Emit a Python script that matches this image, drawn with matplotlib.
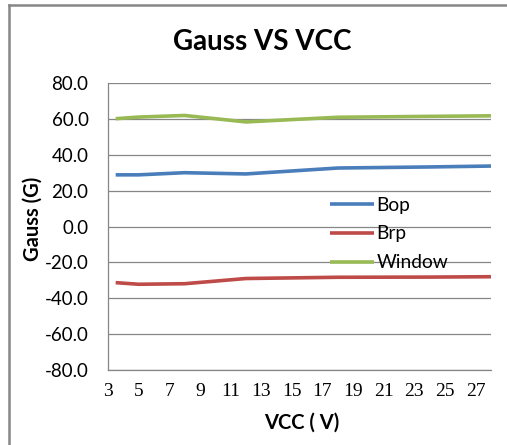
import matplotlib
matplotlib.use("Agg")
import matplotlib.pyplot as plt
from matplotlib.lines import Line2D

# values
vcc = [3.5, 5, 8, 12, 18, 24, 28]
bop = [28.8, 28.8, 30.0, 29.3, 32.6, 33.2, 33.7]
brp = [-31.3, -32.2, -31.9, -29.0, -28.3, -28.2, -28.0]
window = [60.1, 61.0, 61.9, 58.3, 60.9, 61.4, 61.7]

x_ticks = list(range(3, 28, 2))
y_ticks = list(range(-80, 81, 20))

grid_col = "#868686"

fig = plt.figure(figsize=(5.07, 4.45), dpi=100)
ax = fig.add_axes([108 / 507, 1 - 370 / 445, (491 - 108) / 507, (370 - 83) / 445])

ax.plot(vcc, bop, color="#4A7EBB", lw=2.6, label="Bop", solid_capstyle="butt")
ax.plot(vcc, brp, color="#BE4B48", lw=2.6, label="Brp", solid_capstyle="butt")
ax.plot(vcc, window, color="#98B954", lw=2.6, label="Window", solid_capstyle="butt")

ax.set_xlim(3, 28)
ax.set_ylim(-80, 80)
ax.set_xticks(x_ticks)
ax.set_yticks(y_ticks)
ax.set_yticklabels([f"{v:.1f}" for v in y_ticks], fontfamily="Lato", fontsize=13.5)
ax.set_xticklabels([str(v) for v in x_ticks], fontfamily="Liberation Serif", fontsize=14)
ax.tick_params(axis="both", length=0)
ax.tick_params(axis="y", pad=14)
ax.tick_params(axis="x", pad=9)

ax.yaxis.grid(True, color=grid_col, lw=0.9)
ax.set_axisbelow(True)
for side in ["top", "right"]:
    ax.spines[side].set_visible(False)
for side in ["left", "bottom"]:
    ax.spines[side].set_color(grid_col)
    ax.spines[side].set_linewidth(0.9)

fig.text(262 / 507, 1 - 42 / 445, "Gauss VS VCC", ha="center", va="center",
         fontfamily="Lato", fontweight="bold", fontsize=20)
fig.text(33 / 507, 1 - 219 / 445, "Gauss (G)", ha="center", va="center", rotation=90,
         fontfamily="Lato", fontweight="bold", fontsize=14.5)
fig.text(302 / 507, 1 - 423 / 445, "VCC ( V)", ha="center", va="center",
         fontfamily="Lato", fontweight="bold", fontsize=14.5)

leg = ax.legend(loc="center left", bbox_to_anchor=(320 / 507, 1 - 234 / 445),
                bbox_transform=fig.transFigure, frameon=False,
                prop={"family": "Lato", "size": 13.8}, handlelength=2.3,
                handletextpad=0.15, labelspacing=0.62, borderpad=0)

# outer chart border (only top and left are visible in the crop)
fig.add_artist(Line2D([8.5 / 507, 1.0], [1 - 4.5 / 445, 1 - 4.5 / 445],
                      transform=fig.transFigure, color=grid_col, lw=1.8))
fig.add_artist(Line2D([8.5 / 507, 8.5 / 507], [0.0, 1 - 4.5 / 445],
                      transform=fig.transFigure, color=grid_col, lw=1.8))

fig.savefig("out.png", dpi=100)
